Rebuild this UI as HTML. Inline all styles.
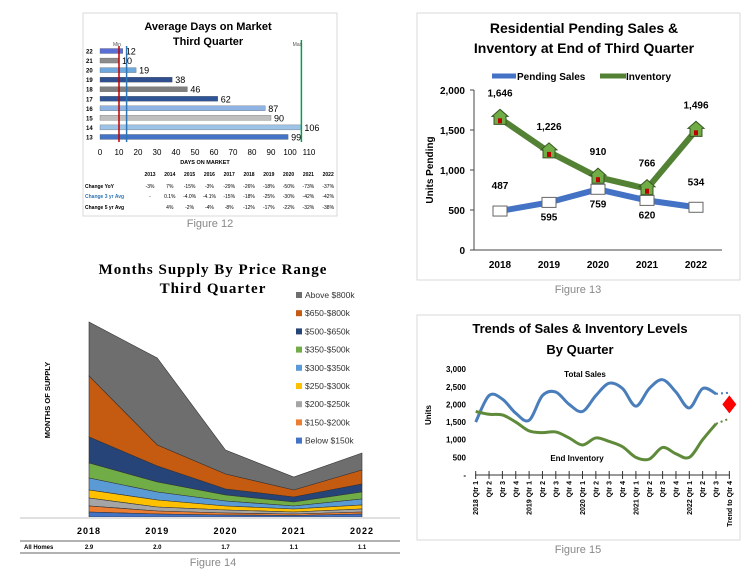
<!DOCTYPE html>
<html><head><meta charset="utf-8"><style>
html,body{margin:0;padding:0;background:#fff}
svg{display:block;font-family:"Liberation Sans",sans-serif}
</style></head><body>
<svg id="s" width="756" height="577" viewBox="0 0 756 577" xmlns="http://www.w3.org/2000/svg">
<g id="f12">
<rect x="83" y="13" width="254" height="203" fill="#fff" stroke="#d9d9d9"/>
<text x="208" y="30" text-anchor="middle" font-size="11" font-weight="bold">Average Days on Market</text>
<text x="208" y="45" text-anchor="middle" font-size="11" font-weight="bold">Third Quarter</text>
<text x="210" y="227" text-anchor="middle" font-size="11" fill="#888">Figure 12</text>
</g>
<g id="f13">
<rect x="417" y="13" width="323" height="267" fill="#fff" stroke="#d9d9d9"/>
<text x="584" y="33" text-anchor="middle" font-size="14" font-weight="bold">Residential Pending Sales &amp;</text>
<text x="584" y="53" text-anchor="middle" font-size="14" font-weight="bold">Inventory at End of Third Quarter</text>
<text x="578" y="293" text-anchor="middle" font-size="11" fill="#888">Figure 13</text>
</g>
<g id="f14">
<text x="213" y="274" text-anchor="middle" font-size="15" font-weight="bold" font-family="Liberation Serif,serif" letter-spacing="1">Months Supply By Price Range</text>
<text x="213" y="293" text-anchor="middle" font-size="15" font-weight="bold" font-family="Liberation Serif,serif" letter-spacing="1">Third Quarter</text>
<text x="213" y="566" text-anchor="middle" font-size="11" fill="#888">Figure 14</text>
</g>
<g id="f15">
<rect x="417" y="315" width="323" height="225" fill="#fff" stroke="#d9d9d9"/>
<text x="580" y="333" text-anchor="middle" font-size="13" font-weight="bold">Trends of Sales &amp; Inventory Levels</text>
<text x="580" y="354" text-anchor="middle" font-size="13" font-weight="bold">By Quarter</text>
<text x="578" y="553" text-anchor="middle" font-size="11" fill="#888">Figure 15</text>
</g>
</svg>
<script>
// ---------- Figure 12 data ----------
const domYears = ['22','21','20','19','18','17','16','15','14','13'];
const domValues = [12,10,19,38,46,62,87,90,106,99];
const domTicks = [0,10,20,30,40,50,60,70,80,90,100,110];
const domMin = 10, domAvg = 14, domMax = 106;
const tblYears = ['2013','2014','2015','2016','2017','2018','2019','2020','2021','2022'];
const chgYoY = ['-3%','7%','-15%','-3%','-29%','-26%','-18%','-50%','-73%','-37%'];
const chg3yr = ['-','0.1%','-4.0%','-4.1%','-15%','-18%','-25%','-30%','-42%','-42%'];
const chg5yr = ['','4%','-2%','-4%','-8%','-12%','-17%','-22%','-32%','-38%'];
// ---------- Figure 13 data ----------
const pendYears = ['2018','2019','2020','2021','2022'];
const pendSales = [487,595,759,620,534];
const inventory = [1646,1226,910,766,1496];
const pendTicks = [0,500,1000,1500,2000];
// ---------- Figure 14 data ----------
const supYears = ['2018','2019','2020','2021','2022'];
const allHomes = ['2.9','2.0','1.7','1.1','1.1'];
const bands = ['Below $150k','$150-$200k','$200-$250k','$250-$300k','$300-$350k','$350-$500k','$500-$650k','$650-$800k','Above $800k'];
const b0 = [5,3,2,1.5,3];
const b1 = [6,3,2,1.5,2];
const b2 = [8,4,3,2,3];
const b3 = [8,7,4,3,4];
const b4 = [12,8,5,3,6];
const b5 = [15,10,6,4,7];
const b6 = [26,16,6,5,8];
const b7 = [61,21,15,7,14];
const b8 = [54,87,24,13,17];
// ---------- Figure 15 data ----------
const qLabels = ['2018 Qtr 1','Qtr 2','Qtr 3','Qtr 4','2019 Qtr 1','Qtr 2','Qtr 3','Qtr 4','2020 Qtr 1','Qtr 2','Qtr 3','Qtr 4','2021 Qtr 1','Qtr 2','Qtr 3','Qtr 4','2022 Qtr 1','Qtr 2','Qtr 3','Trend to Qtr 4'];
const totalSales = [1500,2250,2150,1750,1550,2250,2350,2000,1800,2250,2600,2450,1950,2450,2700,2350,1900,2450,2300];
const endInv = [1800,1720,1700,1500,1250,1200,1220,1050,850,1050,950,800,500,450,780,600,500,1000,1450];
const salesTrend = 2330, invTrend = 1600, salesForecast = 2000;
const trendTickVals = [0,500,1000,1500,2000,2500,3000];
const trendTickLabels = ['-','500','1,000','1,500','2,000','2,500','3,000'];

const NS='http://www.w3.org/2000/svg';
function mk(parent,tag,attrs,txt){const e=document.createElementNS(NS,tag);for(const k in attrs)e.setAttribute(k,attrs[k]);if(txt!==undefined)e.textContent=txt;parent.appendChild(e);return e;}
const fmt=v=>v.toLocaleString('en-US');
function smooth(pts){let d='M'+pts[0][0]+','+pts[0][1];for(let i=0;i<pts.length-1;i++){const p0=pts[i-1]||pts[i],p1=pts[i],p2=pts[i+1],p3=pts[i+2]||p2;d+=' C'+(p1[0]+(p2[0]-p0[0])/6)+','+(p1[1]+(p2[1]-p0[1])/6)+' '+(p2[0]-(p3[0]-p1[0])/6)+','+(p2[1]-(p3[1]-p1[1])/6)+' '+p2[0]+','+p2[1];}return d;}

// ===== Figure 12 =====
(function(){
const g=document.getElementById('f12');
const x=v=>100+v*1.9;
const y=i=>51+i*9.55;
const cols=['#5a6fd6','#8c8c8c','#6fa8dc','#2f4f8f','#7f7f7f','#2f5597','#8fb4e3','#bfbfbf','#9dc3e6','#4472c4'];
domValues.forEach((v,i)=>{
 const r=mk(g,'rect',{x:x(0),y:y(i)-2.5,width:x(v)-x(0),height:5,fill:cols[i],stroke:'#555','stroke-width':0.3});
 
 
 const t=mk(g,'text',{x:x(v)+3,y:y(i)+3.5,'font-size':9},v);
 
 
 const c=mk(g,'text',{x:86,y:y(i)+2.5,'font-size':6,'font-weight':'bold'},domYears[i]);
 
 
});
[[domMin,'#c00000'],[domAvg,'#2e75b6'],[domMax,'#00a050']].forEach((m,k)=>{
 const l=mk(g,'line',{x1:x(m[0]),x2:x(m[0]),y1:k==2?40:46,y2:142,stroke:m[1],'stroke-width':1.5});
 
 
});
let t=mk(g,'text',{x:x(domMin)-2,y:46,'font-size':5,fill:'#555','text-anchor':'middle'},'Min');

t=mk(g,'text',{x:x(domMax)-4,y:46,'font-size':5,fill:'#555','text-anchor':'middle'},'Max');

domTicks.forEach(v=>{
 const e=mk(g,'text',{x:x(v),y:155,'font-size':8,'text-anchor':'middle'},v);
 
 
});
t=mk(g,'text',{x:205,y:164,'font-size':5.5,'font-weight':'bold','text-anchor':'middle'},'DAYS ON MARKET');

const cx=i=>150+i*19.8;
tblYears.forEach((yr,i)=>{const e=mk(g,'text',{x:cx(i),y:176,'font-size':5,'font-weight':'bold','text-anchor':'middle'},yr);});
[['Change YoY',chgYoY,188,'#000'],['Change 3 yr Avg',chg3yr,198,'#2e75b6'],['Change 5 yr Avg',chg5yr,209,'#000']].forEach((r,k)=>{
 const e=mk(g,'text',{x:85,y:r[2],'font-size':5,'font-weight':'bold',fill:r[3]},r[0]);
 
 r[1].forEach((v,i)=>{const c=mk(g,'text',{x:cx(i),y:r[2],'font-size':5,'text-anchor':'middle'},v);});
});
})();

// ===== Figure 13 =====
(function(){
const g=document.getElementById('f13');
const x=i=>500+i*49;
const y=v=>250-v*0.08;
let a=mk(g,'line',{x1:474,x2:474,y1:y(2000),y2:y(0),stroke:'#444'});
a=mk(g,'line',{x1:474,x2:722,y1:y(0),y2:y(0),stroke:'#444'});
pendTicks.forEach(v=>{const e=mk(g,'text',{x:465,y:y(v)+4,'font-size':10,'font-weight':'bold','text-anchor':'end'},fmt(v));
 const tk=mk(g,'line',{x1:470,x2:474,y1:y(v),y2:y(v),stroke:'#444'});});
pendYears.forEach((yr,i)=>{const e=mk(g,'text',{x:x(i),y:268,'font-size':10,'font-weight':'bold','text-anchor':'middle'},yr);});
a=mk(g,'text',{x:0,y:0,'font-size':10,'font-weight':'bold','text-anchor':'middle',transform:'translate(433,170) rotate(-90)'},'Units Pending');
const series=[[pendSales,'#4472c4','pending-sales'],[inventory,'#548235','inventory']];
series.forEach(s=>{
 const p=mk(g,'polyline',{points:s[0].map((v,i)=>x(i)+','+y(v)).join(' '),fill:'none',stroke:s[1],'stroke-width':6,'stroke-linejoin':'round'});
 
});
pendSales.forEach((v,i)=>{const m=mk(g,'rect',{x:x(i)-7,y:y(v)-5,width:14,height:10,fill:'#fff',stroke:'#666'});
 const below=(i==1||i==2||i==3);const ly=below?y(v)+18:y(v)-22;
 const t=mk(g,'text',{x:x(i),y:ly,'font-size':10,'font-weight':'bold','text-anchor':'middle'},fmt(v));});
inventory.forEach((v,i)=>{const m=mk(g,'path',{d:`M${x(i)-8},${y(v)-2} L${x(i)},${y(v)-9} L${x(i)+8},${y(v)-2} L${x(i)+6},${y(v)-2} L${x(i)+6},${y(v)+6} L${x(i)-6},${y(v)+6} L${x(i)-6},${y(v)-2}Z`,fill:'#70ad47',stroke:'#385723'});
 const d=mk(g,'rect',{x:x(i)-2,y:y(v),width:4,height:5,fill:'#c00000'});
 const t=mk(g,'text',{x:x(i),y:y(v)-22,'font-size':10,'font-weight':'bold','text-anchor':'middle'},fmt(v));});
let l=mk(g,'line',{x1:492,x2:516,y1:76,y2:76,stroke:'#4472c4','stroke-width':5});
l=mk(g,'text',{x:517,y:80,'font-size':10,'font-weight':'bold'},'Pending Sales');
l=mk(g,'line',{x1:600,x2:626,y1:76,y2:76,stroke:'#548235','stroke-width':5});
l=mk(g,'text',{x:626,y:80,'font-size':10,'font-weight':'bold'},'Inventory');
})();

// ===== Figure 14 =====
(function(){
const g=document.getElementById('f14');
const x=i=>89+i*68.25;
const y=v=>517-v;
const layers=[b0,b1,b2,b3,b4,b5,b6,b7,b8];
const cols=['#4472c4','#ed7d31','#a5a5a5','#ffc000','#5b9bd5','#70ad47','#264478','#c55a11','#6e6e6e'];
let cum=[0,0,0,0,0];
const ps=[];
layers.forEach((L,k)=>{
 const lo=cum.slice();cum=cum.map((c,i)=>c+L[i]);
 let d='M'+lo.map((c,i)=>x(i)+','+y(c)).join(' L');
 d+=' L'+cum.map((c,i)=>x(i)+','+y(c)).reverse().join(' L')+'Z';
 ps.push([d,cols[k],k]);
});
ps.reverse().forEach(p=>{const e=mk(g,'path',{d:p[0],fill:p[1],stroke:'#333','stroke-width':0.6});});
let e=mk(g,'line',{x1:20,x2:400,y1:518,y2:518,stroke:'#e0e0e0','stroke-width':2});
supYears.forEach((yr,i)=>{const t=mk(g,'text',{x:x(i),y:534,'font-size':9,'font-weight':'bold','text-anchor':'middle','letter-spacing':1},yr);
 const a=mk(g,'text',{x:x(i),y:549,'font-size':6,'font-weight':'bold','text-anchor':'middle'},allHomes[i]);});
e=mk(g,'line',{x1:20,x2:400,y1:541,y2:541,stroke:'#333','stroke-width':0.8});
e=mk(g,'line',{x1:20,x2:400,y1:553,y2:553,stroke:'#333','stroke-width':0.8});
e=mk(g,'text',{x:24,y:549,'font-size':6,'font-weight':'bold'},'All Homes');
e=mk(g,'text',{x:0,y:0,'font-size':7.5,'font-weight':'bold','text-anchor':'middle',transform:'translate(50,400) rotate(-90)'},'MONTHS OF SUPPLY');
bands.slice().reverse().forEach((b,j)=>{const k=8-j;const yy=296+j*18.2;
 const r=mk(g,'rect',{x:296,y:yy-4,width:6,height:6,fill:cols[k]});
 const t=mk(g,'text',{x:305,y:yy+2,'font-size':8.5,fill:'#333'},b);});
})();

// ===== Figure 15 =====
(function(){
const g=document.getElementById('f15');
const x=i=>475.7+i*13.35;
const y=v=>475-v*0.0353;
let e=mk(g,'line',{x1:475,x2:730,y1:y(0),y2:y(0),stroke:'#333'});
trendTickVals.forEach((v,k)=>{const t=mk(g,'text',{x:466,y:y(v)+3,'font-size':8,'font-weight':'bold','text-anchor':'end'},trendTickLabels[k]);});
qLabels.forEach((q,i)=>{const tk=mk(g,'line',{x1:x(i),x2:x(i),y1:y(0)-4,y2:y(0)+4,stroke:'#333'});
 const t=mk(g,'text',{x:0,y:0,'font-size':7,'font-weight':'bold','text-anchor':'end',transform:`translate(${x(i)+2.5},${y(0)+6}) rotate(-90)`},q);});
e=mk(g,'text',{x:0,y:0,'font-size':8,'font-weight':'bold','text-anchor':'middle',transform:'translate(431,415) rotate(-90)'},'Units');
const n=totalSales.length;
e=mk(g,'path',{d:smooth(totalSales.map((v,i)=>[x(i),y(v)])),fill:'none',stroke:'#4a7ebb','stroke-width':3});
e=mk(g,'path',{d:smooth(endInv.map((v,i)=>[x(i),y(v)])),fill:'none',stroke:'#5e8a3a','stroke-width':3});
e=mk(g,'line',{x1:x(n-1),y1:y(totalSales[n-1]),x2:x(n),y2:y(salesTrend),stroke:'#4a7ebb','stroke-width':2,'stroke-dasharray':'2,3'});
e=mk(g,'line',{x1:x(n-1),y1:y(endInv[n-1]),x2:x(n),y2:y(invTrend),stroke:'#5e8a3a','stroke-width':2,'stroke-dasharray':'2,3'});
const fx=x(n),fy=y(salesForecast);
e=mk(g,'path',{d:`M${fx},${fy-9} L${fx+7},${fy} L${fx},${fy+9} L${fx-7},${fy}Z`,fill:'#ff0000'});
e=mk(g,'text',{x:585,y:377,'font-size':8,'font-weight':'bold','text-anchor':'middle'},'Total Sales');
e=mk(g,'text',{x:577,y:461,'font-size':8,'font-weight':'bold','text-anchor':'middle'},'End Inventory');
})();
</script>
</body></html>
